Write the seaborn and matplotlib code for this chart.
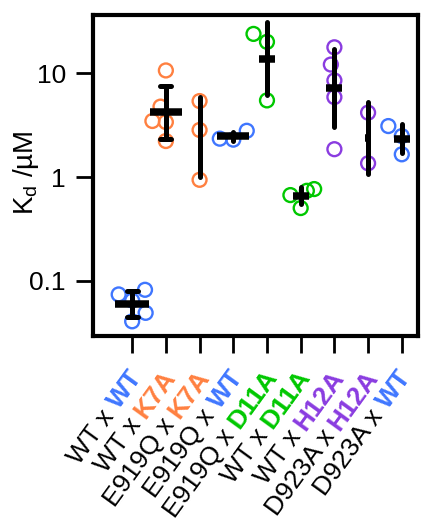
import numpy as np
import pandas as pd
import matplotlib
matplotlib.use('Agg')
import matplotlib.pyplot as plt
import matplotlib.transforms as mtransforms
from matplotlib.ticker import FixedLocator, FixedFormatter, NullLocator
import seaborn as sns

# подписи пар: черная часть и цветная часть
left_parts = ['WT x', 'WT x', 'E919Q x', 'E919Q x', 'E919Q x', 'WT x', 'WT x', 'D923A x', 'D923A x']
right_parts = ['WT', 'K7A', 'K7A', 'WT', 'D11A', 'D11A', 'H12A', 'H12A', 'WT']

# Kd (мкМ) для каждой пары
kd_wt_wt = [0.0738, 0.0818, 0.0645, 0.0406, 0.049]
kd_wt_k7a = [10.7, 4.79, 3.40, 3.48, 2.23]
kd_e919q_k7a = [5.42, 2.85, 0.942]
kd_e919q_wt = [2.35, 2.80, 2.30]
kd_e919q_d11a = [20.2, 24.1, 5.5]
kd_wt_d11a = [0.767, 0.671, 0.738, 0.503]
kd_wt_h12a = [17.9, 12.2, 8.57, 5.92, 1.86]
kd_d923a_h12a = [4.19, 1.36]
kd_d923a_wt = [3.11, 2.49, 1.66]

all_kd = [kd_wt_wt, kd_wt_k7a, kd_e919q_k7a, kd_e919q_wt, kd_e919q_d11a,
          kd_wt_d11a, kd_wt_h12a, kd_d923a_h12a, kd_d923a_wt]

mut_colors = {'WT': '#3F76FF', 'K7A': '#FF8040', 'D11A': '#00C800', 'H12A': '#8A3CE0'}

# ширина среднего (pt) и ширина "шапок" для каждой пары
mean_w = [24, 23, 3.6, 23, 11, 11, 11, 4, 11]
cap_w = [0.33, 0.33, 0, 0, 0, 0, 0, 0, 0]

pairs = [f'{l} {r}' for l, r in zip(left_parts, right_parts)]
rows = []
for p, vals in zip(pairs, all_kd):
    for v in vals:
        rows.append({'pair': p, 'kd': v})
df = pd.DataFrame(rows)
palette = {p: mut_colors[r] for p, r in zip(pairs, right_parts)}

sns.set_style('ticks')
plt.rcParams['font.family'] = ['Liberation Sans', 'DejaVu Sans']
for k in ['text.color', 'axes.labelcolor', 'xtick.color', 'ytick.color']:
    plt.rcParams[k] = 'black'

FS = 19     # подписи оси Y
FSX = 19    # подписи оси X

fig = plt.figure(figsize=(4.26, 5.25), dpi=100)
ax = fig.add_axes([0.218, 0.36, 0.763, 0.611])
ax.set_yscale('log')

sns.swarmplot(data=df, x='pair', y='kd', hue='pair', order=pairs, palette=palette,
              size=10, legend=False, ax=ax, zorder=2)
for coll in ax.collections:
    fc = coll.get_facecolors()
    coll.set_edgecolors(fc)
    coll.set_facecolors('none')
    coll.set_linewidth(1.7)

for i, p in enumerate(pairs):
    sub = df[df['pair'] == p]
    sns.pointplot(data=sub, x='pair', y='kd', order=pairs, estimator='mean', errorbar='sd',
                  color='black', marker='_', markersize=mean_w[i], markeredgewidth=5.4,
                  linestyle='none', capsize=cap_w[i],
                  err_kws={'linewidth': 3.6, 'zorder': 4}, ax=ax, zorder=5)

ax.set_xlim(-1.166, 8.478)
ax.set_ylim(0.0293, 36.5)
ax.yaxis.set_major_locator(FixedLocator([0.1, 1, 10]))
ax.yaxis.set_major_formatter(FixedFormatter(['0.1', '1', '10']))
ax.yaxis.set_minor_locator(NullLocator())
ax.set_xticks(range(len(pairs)))
ax.set_xticklabels([])
ax.set_xlabel('')
ax.set_ylabel(r'K$_\mathregular{d}$ /µM', fontsize=20)
ax.yaxis.set_label_coords(-0.16, 0.51)
ax.tick_params(axis='both', length=12.5, width=2, color='black', labelsize=FS, pad=7)
for s in ax.spines.values():
    s.set_visible(True)
    s.set_linewidth(3)
    s.set_color('black')

# двухцветные подписи по оси X
fig.canvas.draw()
renderer = fig.canvas.get_renderer()
angle = 54
ca, sa = np.cos(np.radians(angle)), np.sin(np.radians(angle))
base = ax.get_xaxis_transform()
ox, oy = 5, -37
for i, (lp, rp) in enumerate(zip(left_parts, right_parts)):
    tr = mtransforms.offset_copy(base, fig=fig, x=ox, y=oy, units='dots')
    ax.text(i, 0, rp, transform=tr, rotation=angle, rotation_mode='anchor',
            ha='right', va='center', fontsize=FSX, fontweight='bold',
            color=mut_colors[rp], clip_on=False)
    tmp = ax.text(0, 0, rp + ' ', fontsize=FSX, fontweight='bold')
    w = tmp.get_window_extent(renderer).width
    tmp.remove()
    tr1 = mtransforms.offset_copy(base, fig=fig, x=ox - w * ca, y=oy - w * sa, units='dots')
    ax.text(i, 0, lp, transform=tr1, rotation=angle, rotation_mode='anchor',
            ha='right', va='center', fontsize=FSX, color='black', clip_on=False)

plt.savefig('out.png', dpi=100)
plt.close()
